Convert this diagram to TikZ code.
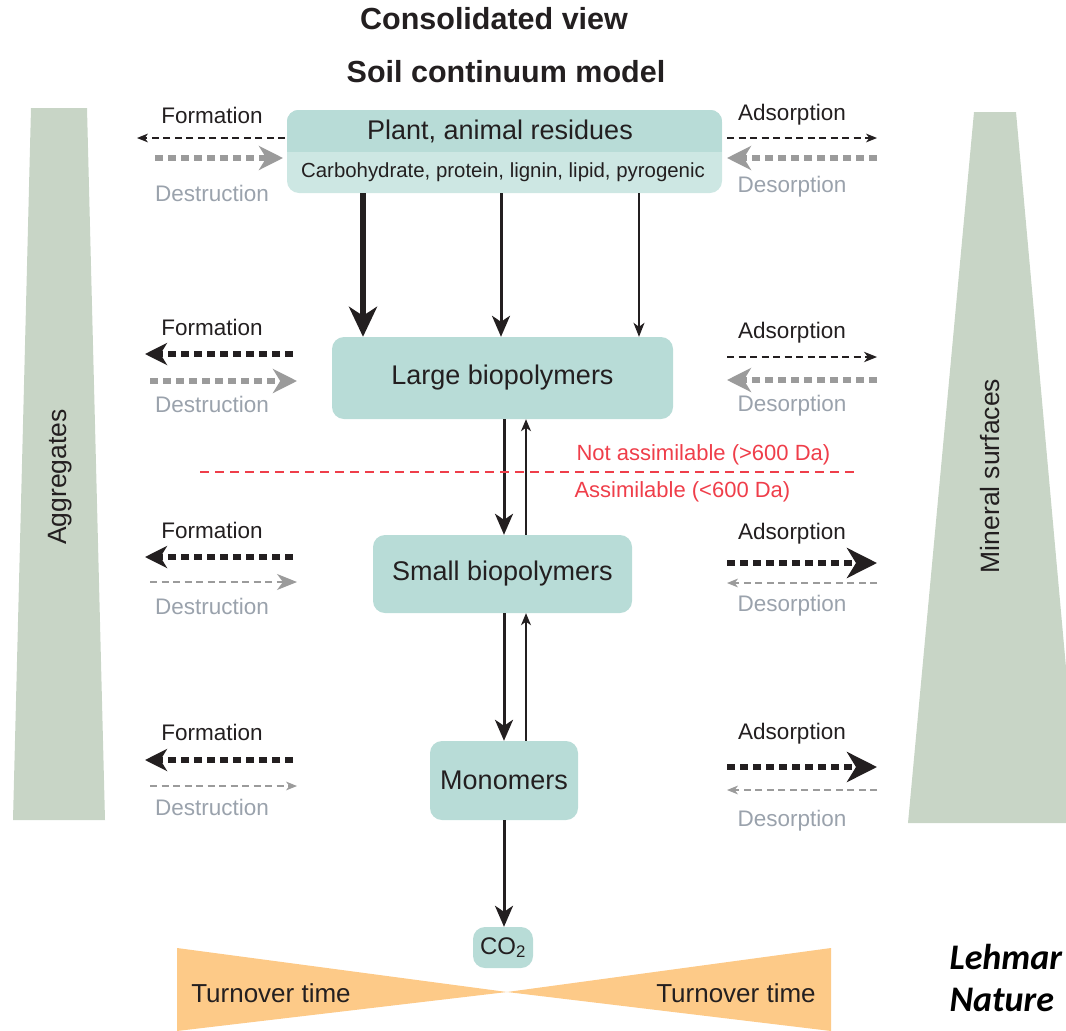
\documentclass[tikz,border=0pt]{standalone}
\usepackage{fontspec}
\setmainfont{Liberation Sans}
\newfontfamily\notefont{Carlito}
\usepackage{tikz}
\usetikzlibrary{arrows.meta, positioning, calc}
\usepackage{xcolor}

\definecolor{ink}{HTML}{231F20}
\definecolor{boxteal}{HTML}{B8DCD7}
\definecolor{boxpale}{HTML}{CDE7E3}
\definecolor{sidegreen}{HTML}{C8D5C6}
\definecolor{turnorange}{HTML}{FDCA88}
\definecolor{cutred}{HTML}{EF3E4A}
\definecolor{arrowgray}{HTML}{9B9B9B}
\definecolor{labelgray}{HTML}{9AA2AC}

\tikzset{
  box/.style={rounded corners=12pt, fill=boxteal, inner sep=0pt, text=ink,
    font=\fontsize{27}{30}\selectfont},
  title/.style={text=ink, font=\bfseries\fontsize{30.5}{34}\selectfont},
  sidelabel/.style={text=ink, font=\fontsize{22.5}{26}\selectfont},
  greylabel/.style={text=labelgray, font=\fontsize{22.5}{26}\selectfont},
  wedgelabel/.style={text=ink, font=\fontsize{26.5}{30}\selectfont},
  turnlabel/.style={text=ink, font=\fontsize{26}{30}\selectfont},
  cutlabel/.style={text=cutred, font=\fontsize{22}{26}\selectfont, anchor=west},
  notelabel/.style={text=black, font=\notefont\bfseries\itshape\fontsize{36}{40}\selectfont, anchor=west},
  cutline/.style={draw=cutred, line width=1.2pt, dash pattern=on 9pt off 6pt},
  % dashed side arrows
  blackthin/.style={draw=ink, line width=1.2pt, dash pattern=on 7pt off 4.5pt,
    -{Stealth[length=#1, width=0.8*#1, inset=0.3*#1]}},
  blackthin/.default=11pt,
  greythin/.style={draw=arrowgray, line width=1.2pt, dash pattern=on 7pt off 4.5pt,
    -{Stealth[length=#1, width=0.8*#1, inset=0.3*#1]}},
  greythin/.default=11pt,
  blackthick/.style={draw=ink, line width=6pt, dash pattern=on 8pt off 5pt,
    -{Stealth[length=#1, width=#1, inset=0.3*#1]}},
  blackthick/.default=22pt,
  greythick/.style={draw=arrowgray, line width=6pt, dash pattern=on 8pt off 5pt,
    -{Stealth[length=#1, width=#1, inset=0.3*#1]}},
  greythick/.default=22pt,
  % vertical flow arrows
  flowheavy/.style={draw=ink, line width=6pt, -{Stealth[length=30pt, width=28pt, inset=9pt]}},
  flowmid/.style={draw=ink, line width=3pt, -{Stealth[length=21pt, width=18pt, inset=6pt]}},
  flowlight/.style={draw=ink, line width=1.4pt, -{Stealth[length=14pt, width=11pt, inset=4pt]}},
  flowback/.style={draw=ink, line width=1.3pt, -{Stealth[length=12pt, width=10pt, inset=3.5pt]}},
}

\begin{document}
\begin{tikzpicture}[x=1pt, y=-1pt]
  % --- Frame ---
  \useasboundingbox (0,0) rectangle (1066,1031);

  % --- Side wedges ---
  \fill[sidegreen] (31,108) -- (87,108) -- (105,820) -- (13,820) -- cycle;
  \fill[sidegreen] (974,112) -- (1016,112) -- (1080,823) -- (908,823) -- cycle;
  \node[wedgelabel, rotate=90] (aggr) at (60,477) {Aggregates};
  \node[wedgelabel, rotate=90] (mineral) at (990,476) {Mineral surfaces};

  % --- Turnover bow tie ---
  \coordinate (Apex) at (507,992);
  \fill[turnorange] (177,948) -- (Apex) -- (177,1031) -- cycle;
  \fill[turnorange] (831,948) -- (Apex) -- (831,1031) -- cycle;
  \node[turnlabel] (turnL) at (271,993) {Turnover time};
  \node[turnlabel] (turnR) at (736,993) {Turnover time};

  % --- Titles ---
  \node[title] (head) at (494,19) {Consolidated view};
  \node[title] (model) at (506,72) {Soil continuum model};

  % --- Pools ---
  \node[box, fill=boxpale, minimum width=435pt, minimum height=83pt] (plant) at (504.5,151.5) {};
  \begin{scope}
    \clip[rounded corners=12pt] (plant.south west) rectangle (plant.north east);
    \fill[boxteal] (plant.north west) rectangle (plant.east);
  \end{scope}
  \node[text=ink, font=\fontsize{27}{30}\selectfont] (plantname) at (500,131) {Plant, animal residues};
  \node[text=ink, font=\fontsize{20.4}{24}\selectfont] (plantsub) at (503,172) {Carbohydrate, protein, lignin, lipid, pyrogenic};

  \node[box, minimum width=341pt, minimum height=82pt] (large) at (502.5,378) {Large biopolymers};
  \node[box, minimum width=259pt, minimum height=78pt] (small) at (502.5,574) {Small biopolymers};
  \node[box, minimum width=148pt, minimum height=79pt] (mono) at (504,780.5) {Monomers};
  \node[box, font=\fontsize{24}{28}\selectfont, minimum width=60pt, minimum height=41pt] (co2) at (503,947.5) {CO\textsubscript{2}};

  % --- Vertical flows ---
  \coordinate (colA) at (363,0);
  \coordinate (colB) at (501,0);
  \coordinate (colC) at (639,0);
  \coordinate (colD) at (504,0);
  \coordinate (colE) at (526,0);
  \draw[flowheavy] (plant.south -| colA) -- (large.north -| colA);
  \draw[flowmid] (plant.south -| colB) -- (large.north -| colB);
  \draw[flowlight] (plant.south -| colC) -- (large.north -| colC);
  \draw[flowmid] (large.south -| colD) -- (small.north -| colD);
  \draw[flowback] (small.north -| colE) -- (large.south -| colE);
  \draw[flowmid] (small.south -| colD) -- (mono.north -| colD);
  \draw[flowback] (mono.north -| colE) -- (small.south -| colE);
  \draw[flowmid] (mono.south -| colD) -- (co2.north -| colD);

  % --- Size cut-off ---
  \coordinate (cutL) at (200,472);
  \coordinate (cutR) at (855,472);
  \draw[cutline] (cutL) -- (cutR);
  \node[cutlabel] (notassim) at (573,455) {Not assimilable (>600 Da)};
  \node[cutlabel] (assim) at (571,492) {Assimilable (<600 Da)};

  % --- Left side: formation / destruction ---
  \coordinate (L1a) at (285,138); \coordinate (L1b) at (137,138);
  \coordinate (L1c) at (155,158); \coordinate (L1d) at (283,158);
  \coordinate (L2a) at (293,354); \coordinate (L2b) at (145,354);
  \coordinate (L2c) at (150,381); \coordinate (L2d) at (297,381);
  \coordinate (L3a) at (293,557); \coordinate (L3b) at (145,557);
  \coordinate (L3c) at (150,582); \coordinate (L3d) at (297,582);
  \coordinate (L4a) at (293,760); \coordinate (L4b) at (145,760);
  \coordinate (L4c) at (150,786); \coordinate (L4d) at (297,786);

  \node[sidelabel] (formA) at (212,115) {Formation};
  \node[greylabel] (destA) at (212,193) {Destruction};
  \draw[blackthin] (L1a) -- (L1b);
  \draw[greythick=24pt] (L1c) -- (L1d);

  \node[sidelabel] (formB) at (212,327) {Formation};
  \node[greylabel] (destB) at (212,404) {Destruction};
  \draw[blackthick] (L2a) -- (L2b);
  \draw[greythick=24pt] (L2c) -- (L2d);

  \node[sidelabel] (formC) at (212,530) {Formation};
  \node[greylabel] (destC) at (212,606) {Destruction};
  \draw[blackthick] (L3a) -- (L3b);
  \draw[greythin=20pt] (L3c) -- (L3d);

  \node[sidelabel] (formD) at (212,732) {Formation};
  \node[greylabel] (destD) at (212,807) {Destruction};
  \draw[blackthick] (L4a) -- (L4b);
  \draw[greythin] (L4c) -- (L4d);

  % --- Right side: adsorption / desorption ---
  \coordinate (R1a) at (727,138); \coordinate (R1b) at (877,138);
  \coordinate (R1c) at (877,158); \coordinate (R1d) at (727,158);
  \coordinate (R2a) at (727,357); \coordinate (R2b) at (877,357);
  \coordinate (R2c) at (877,380); \coordinate (R2d) at (727,380);
  \coordinate (R3a) at (727,563); \coordinate (R3b) at (877,563);
  \coordinate (R3c) at (877,583); \coordinate (R3d) at (727,583);
  \coordinate (R4a) at (727,767); \coordinate (R4b) at (877,767);
  \coordinate (R4c) at (877,790); \coordinate (R4d) at (727,790);

  \node[sidelabel] (adsA) at (792,115) {Adsorption};
  \node[greylabel] (desA) at (792,187) {Desorption};
  \draw[blackthin] (R1a) -- (R1b);
  \draw[greythick=24pt] (R1c) -- (R1d);

  \node[sidelabel] (adsB) at (792,333) {Adsorption};
  \node[greylabel] (desB) at (792,406) {Desorption};
  \draw[blackthin=13pt] (R2a) -- (R2b);
  \draw[greythick=24pt] (R2c) -- (R2d);

  \node[sidelabel] (adsC) at (792,534) {Adsorption};
  \node[greylabel] (desC) at (792,606) {Desorption};
  \draw[blackthick=30pt] (R3a) -- (R3b);
  \draw[greythin] (R3c) -- (R3d);

  \node[sidelabel] (adsD) at (792,734) {Adsorption};
  \node[greylabel] (desD) at (792,821) {Desorption};
  \draw[blackthick=30pt] (R4a) -- (R4b);
  \draw[greythin] (R4c) -- (R4d);

  % --- Source ---
  \node[notelabel] (citeA) at (946,957) {Lehmar};
  \node[notelabel] (citeB) at (946,1000) {Nature};
\end{tikzpicture}
\end{document}
